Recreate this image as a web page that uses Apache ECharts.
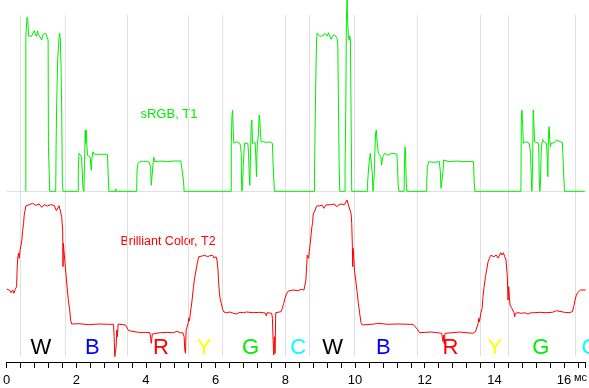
<!DOCTYPE html>
<html><head><meta charset="utf-8">
<script src="https://cdn.jsdelivr.net/npm/echarts@6/dist/echarts.min.js"></script>
<style>html,body{margin:0;padding:0;background:#fff}#c{width:589px;height:388px}</style>
</head><body><div id="c"></div>
<script>
// time in ms, brightness in arbitrary units
const greenTrace = [
[0.551,0],[0.551,154.6],[0.58,154.6],[0.585,174],[0.6,174],[0.609,171],[0.629,155.3],[0.714,155],[0.771,155],[0.791,160.6],[0.814,158],[0.837,158],[0.857,155],[0.886,160.6],[0.914,157],[0.934,156.3],[0.971,155],[1.009,151.3],[1.029,154],[1.049,157],[1.086,155],[1.123,158],[1.157,156],[1.191,151.3],[1.2,45],[1.237,0],[1.409,0],[1.42,44.6],[1.437,88],[1.466,131.3],[1.506,154.6],[1.523,158],[1.543,151.3],[1.563,124.6],[1.58,84.6],[1.6,8],[1.62,0],
[2.057,0],[2.057,19.6],[2.077,38],[2.134,38],[2.151,34.6],[2.171,19.6],[2.191,3.3],[2.22,0],[2.237,31],[2.257,61.3],[2.266,48],[2.286,61.3],[2.306,44],[2.323,36],[2.363,36],[2.4,34],[2.429,21],[2.449,33],[2.477,39.6],[2.514,37],[2.551,38],[2.649,37],[2.743,37],[2.894,37],[2.914,18],[2.934,0],[3.123,0],[3.134,2.5],[3.143,0],[3.734,0],[3.743,21],[3.771,28],[3.809,29.6],[3.849,30],[3.923,30],[4.0,30],[4.094,29],[4.134,24],[4.151,6],[4.163,6],[4.2,7],[4.22,34],[4.257,29.6],[4.4,30.3],[4.6,29.6],[4.8,30.3],[5.0,30.3],[5.057,30],[5.077,11],[5.094,0],
[6.448,0],[6.448,48],[6.467,74.6],[6.486,81.3],[6.505,59.6],[6.524,48],[6.6,49.6],[6.695,48],[6.714,44.6],[6.733,38],[6.743,11.3],[6.752,0],[6.771,4.6],[6.79,24.6],[6.81,38],[6.829,48],[6.886,48.6],[6.924,48],[6.943,38],[6.962,18],[6.981,6],[7.0,34.6],[7.019,64.6],[7.038,71.3],[7.057,48],[7.095,49.6],[7.133,48.6],[7.152,34.6],[7.171,14.6],[7.19,44.6],[7.229,58],[7.248,76.3],[7.267,71.3],[7.286,58],[7.305,49.6],[7.381,49.6],[7.457,48.6],[7.533,49.6],[7.629,48],[7.648,26.3],[7.686,0],
[8.838,0],[8.838,21.3],[8.867,98],[8.895,151.3],[8.914,158],[8.933,159.3],[8.952,156.6],[8.99,155.3],[9.029,156.6],[9.076,155.3],[9.124,158],[9.162,156.6],[9.2,155.3],[9.238,158.6],[9.276,156.6],[9.314,152],[9.352,155.3],[9.41,156.6],[9.448,155.3],[9.486,153],[9.505,146.3],[9.543,28],[9.562,0],[9.714,0],[9.714,24.6],[9.733,80],[9.752,171.3],[9.771,191.3],[9.781,191.3],[9.79,168],[9.81,154.6],[9.829,151.3],[9.848,155.3],[9.867,151.3],[9.886,78],[9.905,0],
[10.362,0],[10.362,9.6],[10.4,28],[10.438,38],[10.476,38],[10.495,18],[10.514,0],[10.533,4.6],[10.552,18],[10.571,41.3],[10.59,58],[10.61,61.3],[10.629,51.3],[10.648,44.6],[10.667,38],[10.705,36.3],[10.743,34.6],[10.762,26.3],[10.781,28],[10.8,34.6],[10.857,38],[10.933,36.3],[11.048,38],[11.2,37.3],[11.219,24.6],[11.238,6.3],[11.257,0],[11.41,0],[11.41,8],[11.429,44.6],[11.448,42],[11.467,11.3],[11.486,0],[12.057,0],[12.057,8],[12.076,24.6],[12.114,29.6],[12.152,28.6],[12.267,29],[12.419,29.6],[12.429,29.3],[12.448,20],[12.467,3],[12.505,3],[12.524,20],[12.543,31.3],[12.7,29.6],[12.9,30.3],[13.1,29.6],[13.3,30],[13.4,29.6],[13.419,9.6],[13.438,0],
[14.762,0],[14.762,4.6],[14.771,73],[14.79,81.3],[14.81,68],[14.829,48],[14.867,46.3],[14.905,49.6],[14.943,48],[15.0,48],[15.038,38],[15.057,14.6],[15.076,0],[15.095,24.6],[15.114,81.3],[15.133,68],[15.152,49.6],[15.19,48],[15.267,48],[15.276,38],[15.286,11.3],[15.305,0],[15.324,11.3],[15.343,41.3],[15.381,52],[15.419,49.6],[15.495,48],[15.514,34.6],[15.533,14.6],[15.552,58],[15.571,64.6],[15.59,51.3],[15.61,44.6],[15.629,48],[15.667,49.6],[15.724,48.6],[15.781,51.3],[15.819,49.6],[15.952,48.6],[15.971,31.3],[16.01,0],[16.59,0]
];
const redTrace = [
[0,73],[0.076,72],[0.133,69.3],[0.171,72],[0.21,68.7],[0.248,72.7],[0.286,75.3],[0.305,95.3],[0.324,105.3],[0.343,108.7],[0.362,103.7],[0.381,110.3],[0.41,111],[0.438,122],[0.457,130.3],[0.486,138.7],[0.505,147],[0.533,152],[0.552,156],[0.648,157.3],[0.743,158.7],[0.838,156.7],[0.933,158],[1.01,154.7],[1.076,157.3],[1.171,156],[1.267,157.3],[1.362,156.7],[1.429,151.3],[1.467,150],[1.505,156.3],[1.562,157],[1.581,145.3],[1.61,130.3],[1.619,95.3],[1.629,118.7],[1.648,120.3],[1.676,98.7],[1.714,83.7],[1.743,72],[1.771,62],[1.81,52],[1.838,42],[1.867,38],[2.076,38.3],[2.362,37.3],[2.648,38],[2.933,37.7],[3.067,37.7],[3.086,25.3],[3.105,5.3],[3.124,3.7],[3.143,15.3],[3.162,32],[3.181,25.3],[3.2,38],[3.238,38.7],[3.41,37],[3.448,35.3],[3.505,31.3],[3.562,29.3],[3.79,29.6],[3.981,29.6],[4.114,29.3],[4.133,23.7],[4.152,18.7],[4.181,28],[4.219,29.3],[4.41,29.3],[4.6,29.6],[4.79,29.3],[4.886,30.7],[4.981,29.3],[5.057,29.3],[5.095,25.3],[5.114,12],[5.133,8.7],[5.152,32],[5.19,32.7],[5.21,38.7],[5.229,43.7],[5.248,41.3],[5.267,47],[5.286,52],[5.324,62],[5.362,75.3],[5.4,84.7],[5.438,92],[5.476,99.3],[5.514,105.3],[5.533,107],[5.61,106],[5.686,106.7],[5.762,105.3],[5.838,106.3],[5.914,106.7],[5.952,104],[6.01,105.3],[6.038,102],[6.067,92],[6.086,78.7],[6.105,70.3],[6.124,63.7],[6.162,58.7],[6.2,52.7],[6.238,50],[6.314,49.3],[6.41,50],[6.505,48.7],[6.6,48],[6.695,49.7],[6.79,49.3],[6.886,50],[7.076,49.3],[7.267,49.7],[7.419,49],[7.457,46],[7.476,49.3],[7.609,48.7],[7.629,43.7],[7.648,22],[7.667,7],[7.686,25.3],[7.705,8.7],[7.724,49.3],[7.762,50.7],[7.876,50.3],[7.914,53.7],[7.952,58.7],[7.99,63.7],[8.029,68],[8.086,71],[8.143,72.7],[8.219,72],[8.267,72],[8.362,71.3],[8.4,70],[8.457,72.7],[8.495,74.7],[8.533,72],[8.571,73.3],[8.59,82],[8.61,95.3],[8.629,107],[8.648,108.7],[8.667,103.7],[8.686,110.3],[8.714,118.7],[8.743,128.7],[8.762,135.3],[8.781,138.7],[8.8,148],[8.838,149.3],[8.857,152],[8.895,156],[8.933,158],[8.99,156.3],[9.048,157],[9.105,153.7],[9.162,157],[9.219,156],[9.295,157.3],[9.352,156.7],[9.41,158],[9.467,155.3],[9.524,157],[9.581,158],[9.638,156.7],[9.695,157.3],[9.752,159.3],[9.771,162],[9.79,160],[9.81,157],[9.867,155.3],[9.886,148.7],[9.905,138.7],[9.924,115.3],[9.933,95.3],[9.943,113.7],[9.962,105.3],[9.981,92],[10.019,82],[10.057,70.3],[10.095,58.7],[10.133,48.7],[10.171,39.3],[10.21,37],[10.267,37.7],[10.552,38],[10.648,38.7],[10.933,37.7],[11.219,38],[11.6,37.7],[11.676,37.3],[11.733,35.3],[11.79,32.7],[11.848,29.3],[11.981,29.6],[12.171,30],[12.362,29.3],[12.486,28.7],[12.524,20.3],[12.543,27],[12.562,18],[12.581,28.7],[12.619,29.3],[12.81,29.3],[13.0,30],[13.19,29.3],[13.381,28.7],[13.419,27.7],[13.457,30.3],[13.495,32],[13.533,38.7],[13.552,43.7],[13.571,40.3],[13.61,48.7],[13.648,53.7],[13.667,63.7],[13.705,75.3],[13.743,85.3],[13.781,92.7],[13.819,100.3],[13.857,103.7],[13.895,106.7],[13.933,108],[13.99,105.3],[14.048,107],[14.105,104],[14.143,105.3],[14.181,109.3],[14.219,107],[14.257,109.3],[14.295,105.3],[14.333,102],[14.371,85.3],[14.39,62],[14.41,75.3],[14.429,65.3],[14.448,57],[14.486,54.7],[14.524,52.7],[14.562,49.3],[14.581,45.3],[14.6,48.7],[14.676,49.3],[14.771,48.7],[14.867,49.3],[14.962,48],[15.057,49.3],[15.152,49.3],[15.286,49.7],[15.476,49.3],[15.667,49.7],[15.781,51.3],[15.819,49.3],[16.01,49.7],[16.143,49.3],[16.238,50.3],[16.276,55.3],[16.314,62],[16.352,67],[16.39,69.3],[16.429,71],[16.467,72],[16.62,72]
];
const segmentBounds = [0.38, 1.68, 3.47, 5.22, 6.19, 8.0, 8.70, 9.98, 11.78, 13.58, 14.41, 16.32];
const letterNames = ['W','B','R','Y','G','C','W','B','R','Y','G','C'];
const letterTimes = [0.98, 2.46, 4.43, 5.67, 7.0, 8.37, 9.36, 10.81, 12.74, 14.01, 15.33, 16.73];
const letterColors = {W:'#000000', B:'#0000ff', R:'#ff0000', Y:'#ffff00', G:'#00ee00', C:'#00ffff'};
const letterLevel = 14.5;
const xTicks = {min:0, max:16.62, step:2};
const unitLabel = 'мс';
const greenLabel = 'sRGB, T1';
const redLabel = 'Brilliant Color, T2';

const FONT = 'Liberation Sans, Arial, sans-serif';
const chart = echarts.init(document.getElementById('c'), null, {renderer:'canvas'});
chart.setOption({
  animation:false,
  backgroundColor:'#ffffff',
  grid:{left:4, right:3.3, top:15, bottom:32, containLabel:false},
  xAxis:{type:'value', min:xTicks.min, max:xTicks.max, interval:xTicks.step, offset:6,
    axisLine:{show:true, onZero:false, lineStyle:{color:'#000', width:1}},
    axisTick:{show:true, length:6, lineStyle:{color:'#000'}},
    minorTick:{show:true, splitNumber:5, length:6, lineStyle:{color:'#000'}},
    splitLine:{show:false},
    axisLabel:{color:'#000', fontSize:13, fontFamily:FONT, margin:12,
      showMaxLabel:false, formatter:v=>String(v)}},
  yAxis:[
    {type:'value', min:-164.7, max:176.3, show:false},
    {type:'value', min:6, max:347, show:false}
  ],
  graphic:[
    {type:'text', left:574, top:372, style:{text:unitLabel, fill:'#000', font:'11px '+FONT}},
    {type:'text', x:169, y:114, style:{text:greenLabel, fill:'#00ee00', font:'13px '+FONT, textAlign:'center', textVerticalAlign:'middle'}},
    {type:'text', x:168, y:242, style:{text:redLabel, fill:'#ff0000', font:'12.5px '+FONT, textAlign:'center', textVerticalAlign:'middle'}}
  ],
  series:[
    {type:'line', data:[], z:1, silent:true, xAxisIndex:0, yAxisIndex:0,
      markLine:{silent:true, z:1, symbol:['none','none'], label:{show:false},
        lineStyle:{color:'#e0e0e0', width:1, type:'solid'},
        data:segmentBounds.map(t=>({xAxis:t})).concat([{yAxis:0}])}},
    {type:'line', data:greenTrace, yAxisIndex:0, showSymbol:false, clip:false, z:3,
      lineStyle:{color:'#00ee00', width:1}},
    {type:'line', data:redTrace, yAxisIndex:1, showSymbol:false, clip:false, z:3,
      lineStyle:{color:'#ff0000', width:1}},
    {type:'scatter', yAxisIndex:1, clip:false, symbolSize:1, silent:true,
      itemStyle:{color:'rgba(0,0,0,0)', opacity:1}, z:4,
      data:letterNames.map((n,i)=>({value:[letterTimes[i], letterLevel], name:n,
        label:{show:true, position:'inside', formatter:n, color:letterColors[n], opacity:1,
          textBorderWidth:0, fontSize:22, fontFamily:FONT}}))}
  ]
});
</script></body></html>
